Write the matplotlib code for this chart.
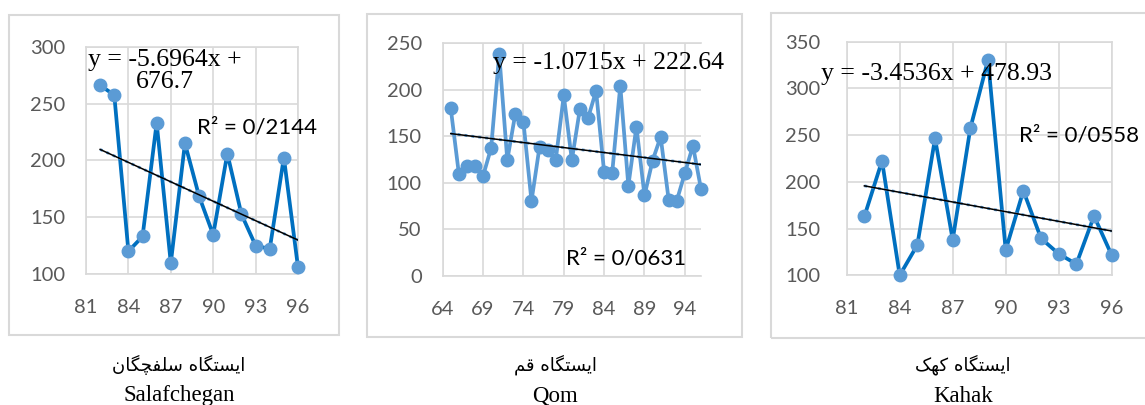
import matplotlib

matplotlib.use("Agg")

import numpy as np
import matplotlib.pyplot as plt
from matplotlib.patches import Rectangle

W, H = 1145, 405

# --- datos ---
salaf_anos = list(range(82, 97))
salaf_valores = [266, 257.5, 120, 133, 233, 109.5, 215, 168.5, 134.5, 206, 152.5, 125, 122, 202.5, 106]

qom_anos = list(range(65, 97))
qom_valores = [180, 110, 118, 118.5, 107.5, 137.5, 238.5, 124.5, 174.5, 165.5, 80.5, 139, 135.5,
               124.5, 194, 124.5, 179.5, 169.5, 199, 111.5, 111, 204.5, 97, 160.5, 86.5, 124,
               149.5, 81.5, 81, 110.5, 140, 93.5]

kahak_anos = list(range(82, 97))
kahak_valores = [163, 222.5, 100, 132.5, 246.5, 138, 257.5, 330.5, 127, 190.5, 139.5, 123, 112, 163.5, 121.5]

# pendiente, intercepto y R2 tal como aparecen en la figura
tendencias = {
    "salaf": (-5.6964, 676.7, "0/2144"),
    "qom": (-1.0715, 222.64, "0/0631"),
    "kahak": (-3.4536, 478.93, "0/0558"),
}

titulos_fa = ["ایستگاه سلفچگان", "ایستگاه قم", "ایستگاه کهک"]
titulos_en = ["Salafchegan", "Qom", "Kahak"]

# formas contextuales: (aislada, final, inicial, media)
FORMAS = {
    "ا": ("\uFE8D", "\uFE8E", None, None),
    "ی": ("\uFBFC", "\uFBFD", "\uFBFE", "\uFBFF"),
    "س": ("\uFEB1", "\uFEB2", "\uFEB3", "\uFEB4"),
    "ت": ("\uFE95", "\uFE96", "\uFE97", "\uFE98"),
    "گ": ("\uFB92", "\uFB93", "\uFB94", "\uFB95"),
    "ه": ("\uFEE9", "\uFEEA", "\uFEEB", "\uFEEC"),
    "ل": ("\uFEDD", "\uFEDE", "\uFEDF", "\uFEE0"),
    "ف": ("\uFED1", "\uFED2", "\uFED3", "\uFED4"),
    "چ": ("\uFB7A", "\uFB7B", "\uFB7C", "\uFB7D"),
    "ن": ("\uFEE5", "\uFEE6", "\uFEE7", "\uFEE8"),
    "ق": ("\uFED5", "\uFED6", "\uFED7", "\uFED8"),
    "م": ("\uFEE1", "\uFEE2", "\uFEE3", "\uFEE4"),
    "ک": ("\uFB8E", "\uFB8F", "\uFB90", "\uFB91"),
}


def une_izquierda(ch):
    return ch in FORMAS and FORMAS[ch][2] is not None


def dar_forma(texto):
    salida = []
    for i, ch in enumerate(texto):
        if ch not in FORMAS:
            salida.append(ch)
            continue
        iso, fin, ini, med = FORMAS[ch]
        previo = i > 0 and une_izquierda(texto[i - 1])
        siguiente = i + 1 < len(texto) and texto[i + 1] in FORMAS and ini is not None
        if previo and siguiente:
            salida.append(med)
        elif previo:
            salida.append(fin)
        elif siguiente:
            salida.append(ini)
        else:
            salida.append(iso)
    return "".join(reversed(salida))


AZUL_OSCURO = "#0070C0"
AZUL_CLARO = "#5B9BD5"
GRIS_REJILLA = "#D9D9D9"
GRIS_TEXTO = "#595959"

plt.rcParams["font.family"] = ["Lato", "DejaVu Sans"]

fig = plt.figure(figsize=(W / 100, H / 100), dpi=100)


def caja(px_izq, px_sup, px_der, px_inf):
    return [px_izq / W, 1 - px_inf / H, (px_der - px_izq) / W, (px_inf - px_sup) / H]


# marcos grises de cada grafico
for x0, y0, x1, y1 in [(9, 15, 339, 335), (367, 14, 742, 337), (771, 13, 1160, 338)]:
    fig.add_artist(Rectangle((x0 / W, 1 - y1 / H), (x1 - x0) / W, (y1 - y0) / H,
                             transform=fig.transFigure, fill=False,
                             edgecolor=GRIS_REJILLA, linewidth=1.5))

paneles = [
    dict(anos=salaf_anos, valores=salaf_valores, clave="salaf", color=AZUL_OSCURO,
         pos=caja(86, 46.7, 298, 274), xlim=(81, 96), xt=range(81, 97, 3),
         ylim=(100, 300), yt=range(100, 301, 50), borde_der=True, ypad=15,
         eq="y = -5.6964x +\n676.7", eq_xy=(86.55, 278.5), r2_xy=(93.1, 228.5)),
    dict(anos=qom_anos, valores=qom_valores, clave="qom", color=AZUL_CLARO,
         pos=caja(442.7, 43.3, 701, 276), xlim=(64, 96), xt=range(64, 95, 5),
         ylim=(0, 250), yt=range(0, 251, 50), borde_der=False, ypad=15,
         eq="y = -1.0715x + 222.64", eq_xy=(84.6, 228.5), r2_xy=(86.7, 19)),
    dict(anos=kahak_anos, valores=kahak_valores, clave="kahak", color=AZUL_OSCURO,
         pos=caja(846.7, 41.7, 1111.7, 275.3), xlim=(81, 96), xt=range(81, 97, 3),
         ylim=(100, 350), yt=range(100, 351, 50), borde_der=True, ypad=19,
         eq="y = -3.4536x + 478.93", eq_xy=(86.1, 315.4), r2_xy=(94.15, 250)),
]

for p in paneles:
    ax = fig.add_axes(p["pos"])
    ax.set_xlim(*p["xlim"])
    ax.set_ylim(*p["ylim"])
    ax.set_xticks(list(p["xt"]))
    ax.set_yticks(list(p["yt"]))
    ax.grid(True, color=GRIS_REJILLA, linewidth=1.2)
    ax.set_axisbelow(True)
    for lado in ("left", "bottom", "top", "right"):
        ax.spines[lado].set_color(GRIS_REJILLA)
        ax.spines[lado].set_linewidth(1.2)
    ax.spines["right"].set_visible(p["borde_der"])
    ax.tick_params(axis="both", length=0, labelsize=14.5, labelcolor=GRIS_TEXTO)
    ax.tick_params(axis="x", pad=18)
    ax.tick_params(axis="y", pad=p["ypad"])

    ax.plot(p["anos"], p["valores"], color=p["color"], linewidth=2.7,
            marker="o", markersize=9, markerfacecolor=AZUL_CLARO,
            markeredgecolor=AZUL_CLARO, clip_on=False, zorder=3)

    pendiente, intercepto, r2 = tendencias[p["clave"]]
    xs = np.array([p["anos"][0], p["anos"][-1]])
    ys = pendiente * xs + intercepto
    ax.plot(xs, ys, color=AZUL_CLARO, linewidth=2, linestyle=(0, (1, 1.5)), zorder=4)
    ax.plot(xs, ys, color="black", linewidth=1.1, zorder=5)

    ax.text(*p["eq_xy"], p["eq"], family="Liberation Serif", fontsize=18.5,
            ha="center", va="center", multialignment="center", zorder=6,
            linespacing=1.0)
    ax.text(*p["r2_xy"], f"R² = {r2}", fontsize=16, ha="center", va="center",
            color="black", zorder=6, clip_on=False)

# titulos bajo cada grafico
for cx, fa, en in zip([179, 555, 963], titulos_fa, titulos_en):
    fig.text(cx / W, 1 - 365 / H, dar_forma(fa), family="DejaVu Sans", fontsize=13,
             ha="center", va="center")
    fig.text(cx / W, 1 - 396 / H, en, family="Liberation Serif", fontsize=16.5,
             ha="center", va="center")

fig.savefig("out.png", dpi=100)
